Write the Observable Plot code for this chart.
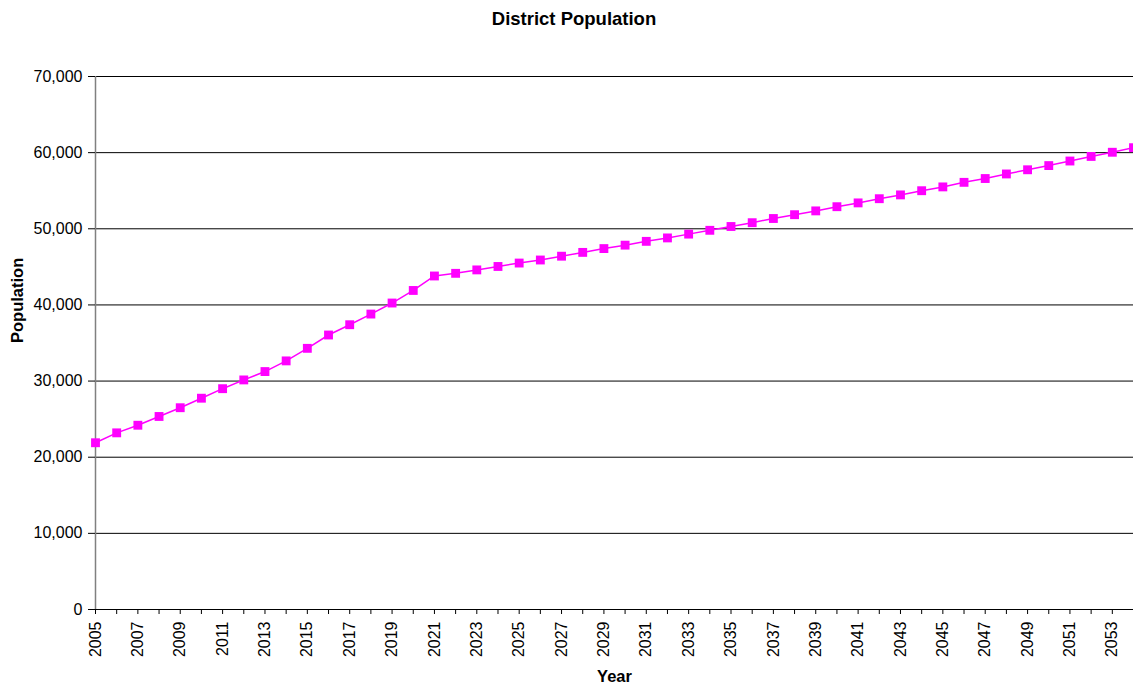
<!DOCTYPE html>
<html>
<head>
<meta charset="utf-8">
<script src="https://cdn.jsdelivr.net/npm/d3@7"></script>
<script src="https://cdn.jsdelivr.net/npm/@observablehq/plot@0.6"></script>
<style>
  body { margin: 0; background: #fff; font-family: "Liberation Sans", Arial, sans-serif; }
  #title { height: 40px; line-height: 38px; text-align: center; font-weight: bold; font-size: 18.5px; color: #000; padding-left: 15px; box-sizing: border-box; }
  #chart svg text { font-size: 16px !important; }
  #chart svg g.axis-title text { font-size: 16.5px !important; font-weight: bold; }
</style>
</head>
<body>
<div id="title">District Population</div>
<div id="chart"></div>
<script>
const years = d3.range(2005, 2055);
const population = [
  21900, 23200, 24200, 25350, 26500, 27750, 29000, 30150, 31250, 32650,
  34300, 36050, 37400, 38800, 40250, 41900, 43800, 44150, 44600, 45050,
  45500, 45900, 46400, 46900, 47400, 47850, 48350, 48800, 49300, 49800,
  50300, 50800, 51350, 51850, 52350, 52900, 53400, 53950, 54450, 55000,
  55500, 56100, 56600, 57200, 57750, 58300, 58900, 59500, 60050, 60650
];
const yTicks = [0, 10000, 20000, 30000, 40000, 50000, 60000, 70000];
const data = years.map((y, i) => ({year: y, population: population[i]}));

const chart = Plot.plot({
  width: 1133,
  height: 643,
  marginTop: 36,
  marginBottom: 74,
  marginLeft: 95,
  marginRight: 0,
  style: {fontFamily: "Liberation Sans, Arial, sans-serif", fontSize: "16px", color: "#000", background: "#fff"},
  x: {domain: [2005, 2054]},
  y: {domain: [0, 70000]},
  marks: [
    Plot.ruleY(yTicks.filter(d => d > 0), {stroke: "#000", strokeWidth: 1, strokeOpacity: 1}),
    Plot.ruleX([2005], {stroke: "#808080", strokeWidth: 1.5}),
    Plot.ruleY([0], {stroke: "#000", strokeWidth: 1}),
    Plot.axisY({ticks: yTicks, tickFormat: d => d3.format(",")(d), tickSize: 7, tickPadding: 6, label: null, fontSize: 16}),
    Plot.axisX({ticks: years, tickFormat: d => (d % 2 === 1 ? String(d) : ""), tickSize: 5, tickPadding: 7, tickRotate: -90, label: null, fontSize: 16}),
    Plot.line(data, {x: "year", y: "population", stroke: "#FF00FF", strokeWidth: 1.5}),
    Plot.dot(data, {x: "year", y: "population", symbol: "square", r: 5, fill: "#FF00FF", stroke: "none"}),
    Plot.text(["Population"], {frameAnchor: "left", dx: -78, rotate: -90, fontWeight: "bold", fontSize: 16.5, className: "axis-title"}),
    Plot.text(["Year"], {frameAnchor: "bottom", dy: 72, fontWeight: "bold", fontSize: 16.5, className: "axis-title"})
  ]
});
document.getElementById("chart").appendChild(chart);
</script>
</body>
</html>
